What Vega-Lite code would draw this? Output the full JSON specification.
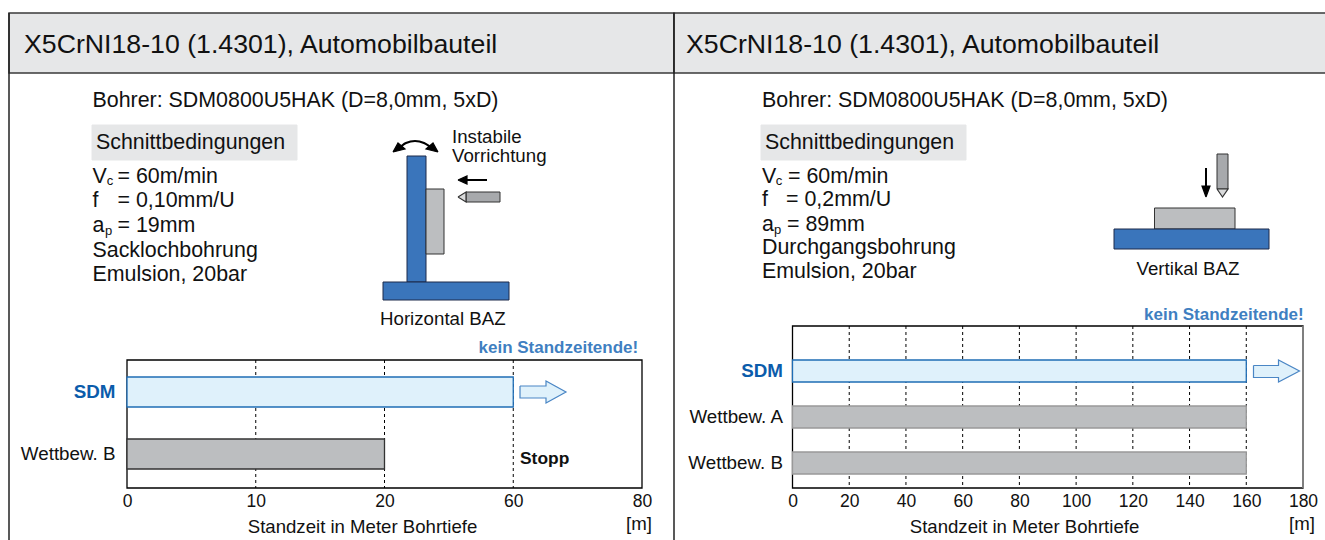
{"$schema":"https://vega.github.io/schema/vega-lite/v6.json","width":1325,"height":540,"autosize":{"type":"none"},"padding":0,"background":"white","config":{"view":{"stroke":null},"font":"Liberation Sans"},"resolve":{"scale":{"x":"independent","y":"independent","color":"independent","size":"independent","fill":"independent","stroke":"independent"},"axis":{"x":"independent","y":"independent"}},"datasets":{"panels":[{"a":9,"b":674},{"a":674,"b":1335}],"rects":[{"part":"Kasten","x":92,"x2":297,"y":125,"y2":160},{"part":"Kasten","x":761,"x2":966,"y":125,"y2":160},{"part":"Maschine","x":407,"x2":426,"y":156,"y2":282},{"part":"Maschine","x":383,"x2":509,"y":282,"y2":300},{"part":"Werkstueck","x":426,"x2":444,"y":189,"y2":254},{"part":"Werkzeug","x":466,"x2":500,"y":192,"y2":202},{"part":"Werkzeug","x":1217,"x2":1228,"y":154,"y2":189},{"part":"Werkstueck","x":1154.5,"x2":1235,"y":208,"y2":229},{"part":"Maschine","x":1114,"x2":1269,"y":229,"y2":249}],"polys":[{"id":"p1","part":"Spitze","s":1,"x":458,"y":197},{"id":"p1","part":"Spitze","s":2,"x":466,"y":192},{"id":"p1","part":"Spitze","s":3,"x":466,"y":202},{"id":"p1","part":"Spitze","s":4,"x":458,"y":197},{"id":"p2","part":"Spitze","s":1,"x":1217,"y":189},{"id":"p2","part":"Spitze","s":2,"x":1228,"y":189},{"id":"p2","part":"Spitze","s":3,"x":1222.5,"y":197},{"id":"p2","part":"Spitze","s":4,"x":1217,"y":189},{"id":"h1","part":"Pfeil","s":1,"x":393,"y":152},{"id":"h1","part":"Pfeil","s":2,"x":398,"y":143},{"id":"h1","part":"Pfeil","s":3,"x":405,"y":149},{"id":"h1","part":"Pfeil","s":4,"x":393,"y":152},{"id":"h2","part":"Pfeil","s":1,"x":438,"y":152},{"id":"h2","part":"Pfeil","s":2,"x":433,"y":143},{"id":"h2","part":"Pfeil","s":3,"x":426,"y":149},{"id":"h2","part":"Pfeil","s":4,"x":438,"y":152},{"id":"h3","part":"Pfeil","s":1,"x":458,"y":180},{"id":"h3","part":"Pfeil","s":2,"x":467,"y":176},{"id":"h3","part":"Pfeil","s":3,"x":467,"y":184},{"id":"h3","part":"Pfeil","s":4,"x":458,"y":180},{"id":"h4","part":"Pfeil","s":1,"x":1206,"y":197},{"id":"h4","part":"Pfeil","s":2,"x":1202,"y":186},{"id":"h4","part":"Pfeil","s":3,"x":1210,"y":186},{"id":"h4","part":"Pfeil","s":4,"x":1206,"y":197},{"id":"a1","part":"Trend","s":1,"x":520,"y":386},{"id":"a1","part":"Trend","s":2,"x":546,"y":386},{"id":"a1","part":"Trend","s":3,"x":546,"y":381},{"id":"a1","part":"Trend","s":4,"x":566,"y":392},{"id":"a1","part":"Trend","s":5,"x":546,"y":403},{"id":"a1","part":"Trend","s":6,"x":546,"y":398},{"id":"a1","part":"Trend","s":7,"x":520,"y":398},{"id":"a1","part":"Trend","s":8,"x":520,"y":386},{"id":"a2","part":"Trend","s":1,"x":1253.5,"y":365.5},{"id":"a2","part":"Trend","s":2,"x":1278.5,"y":365.5},{"id":"a2","part":"Trend","s":3,"x":1278.5,"y":360},{"id":"a2","part":"Trend","s":4,"x":1299.5,"y":371},{"id":"a2","part":"Trend","s":5,"x":1278.5,"y":382},{"id":"a2","part":"Trend","s":6,"x":1278.5,"y":377.5},{"id":"a2","part":"Trend","s":7,"x":1253.5,"y":377.5},{"id":"a2","part":"Trend","s":8,"x":1253.5,"y":365.5}],"curve":[{"x":398,"y":149},{"x":406,"y":143},{"x":415,"y":141},{"x":424,"y":143},{"x":433,"y":149}],"strokes":[{"id":"l1","s":1,"x":487,"y":180},{"id":"l1","s":2,"x":465,"y":180},{"id":"l2","s":1,"x":1206,"y":168},{"id":"l2","s":2,"x":1206,"y":188}],"texts":[{"t":"X5CrNI18-10 (1.4301), Automobilbauteil","x":24,"y":53,"k":"Titel"},{"t":"X5CrNI18-10 (1.4301), Automobilbauteil","x":686,"y":53,"k":"Titel"},{"t":"Bohrer: SDM0800U5HAK (D=8,0mm, 5xD)","x":92.5,"y":107,"k":"Text"},{"t":"Bohrer: SDM0800U5HAK (D=8,0mm, 5xD)","x":762,"y":107,"k":"Text"},{"t":"Schnittbedingungen","x":96,"y":149,"k":"Text"},{"t":"Schnittbedingungen","x":765,"y":149,"k":"Text"},{"t":"V","x":92.5,"y":183,"k":"Text"},{"t":"c","x":106.8,"y":185,"k":"Index"},{"t":"= 60m/min","x":117.5,"y":183,"k":"Text"},{"t":"f","x":92.5,"y":207,"k":"Text"},{"t":"= 0,10mm/U","x":117.5,"y":207,"k":"Text"},{"t":"a","x":92.5,"y":232,"k":"Text"},{"t":"p","x":105,"y":235,"k":"Index"},{"t":"= 19mm","x":117.5,"y":232,"k":"Text"},{"t":"Sacklochbohrung","x":92.5,"y":257,"k":"Text"},{"t":"Emulsion, 20bar","x":92.5,"y":281,"k":"Text"},{"t":"V","x":762,"y":183,"k":"Text"},{"t":"c","x":775.8,"y":185,"k":"Index"},{"t":"= 60m/min","x":788,"y":183,"k":"Text"},{"t":"f","x":762,"y":206,"k":"Text"},{"t":"= 0,2mm/U","x":786,"y":206,"k":"Text"},{"t":"a","x":762,"y":231,"k":"Text"},{"t":"p","x":774,"y":234,"k":"Index"},{"t":"= 89mm","x":787,"y":231,"k":"Text"},{"t":"Durchgangsbohrung","x":762,"y":254,"k":"Text"},{"t":"Emulsion, 20bar","x":762,"y":278,"k":"Text"},{"t":"Instabile","x":452,"y":143,"k":"Notiz"},{"t":"Vorrichtung","x":452,"y":162,"k":"Notiz"},{"t":"Horizontal BAZ","x":380,"y":325,"k":"Notiz"},{"t":"Vertikal BAZ","x":1136.5,"y":275,"k":"Notiz"},{"t":"[m]","x":626,"y":530,"k":"Notiz"},{"t":"[m]","x":1289,"y":530,"k":"Notiz"}],"bold":[{"t":"kein Standzeitende!","x":478.5,"y":353,"k":"Hinweis"},{"t":"kein Standzeitende!","x":1144,"y":320,"k":"Hinweis"},{"t":"Stopp","x":520,"y":464,"k":"Stopp"}]},"layer":[{"data":{"name":"panels"},"mark":{"type":"rect","fill":"#e6e7e8","stroke":"#3a3a3a","strokeWidth":1.5},"encoding":{"x":{"field":"a","type":"quantitative","scale":{"domain":[0,1325],"range":[0,1325]},"axis":null},"x2":{"field":"b"},"y":{"value":13},"y2":{"value":73}}},{"data":{"name":"panels"},"mark":{"type":"rule","stroke":"#222","strokeWidth":1.5},"encoding":{"x":{"field":"a","type":"quantitative","scale":{"domain":[0,1325],"range":[0,1325]},"axis":null},"y":{"value":13},"y2":{"value":545}}},{"data":{"name":"rects"},"mark":{"type":"rect"},"encoding":{"x":{"field":"x","type":"quantitative","scale":{"domain":[0,1325],"range":[0,1325]},"axis":null},"x2":{"field":"x2"},"y":{"field":"y","type":"quantitative","scale":{"domain":[0,540],"range":[0,540]},"axis":null},"y2":{"field":"y2"},"fill":{"field":"part","type":"nominal","legend":null,"scale":{"domain":["Kasten","Maschine","Werkstueck","Werkzeug"],"range":["#e6e7e8","#3a75bb","#bcbec0","#a7a9ac"]}},"stroke":{"field":"part","type":"nominal","legend":null,"scale":{"domain":["Kasten","Maschine","Werkstueck","Werkzeug"],"range":["#e6e7e8","#1c2b4a","#333333","#333333"]}}}},{"data":{"name":"polys"},"mark":{"type":"line","strokeWidth":1.2,"strokeJoin":"miter"},"encoding":{"x":{"field":"x","type":"quantitative","scale":{"domain":[0,1325],"range":[0,1325]},"axis":null},"y":{"field":"y","type":"quantitative","scale":{"domain":[0,540],"range":[0,540]},"axis":null},"order":{"field":"s","type":"quantitative"},"detail":{"field":"id"},"fill":{"field":"part","type":"nominal","legend":null,"scale":{"domain":["Spitze","Pfeil","Trend"],"range":["#d9dadb","#000000","#dff1fb"]}},"stroke":{"field":"part","type":"nominal","legend":null,"scale":{"domain":["Spitze","Pfeil","Trend"],"range":["#333333","#000000","#4a86c5"]}}}},{"data":{"name":"curve"},"mark":{"type":"line","interpolate":"monotone","stroke":"#000","strokeWidth":2.2},"encoding":{"x":{"field":"x","type":"quantitative","scale":{"domain":[0,1325],"range":[0,1325]},"axis":null},"y":{"field":"y","type":"quantitative","scale":{"domain":[0,540],"range":[0,540]},"axis":null}}},{"data":{"name":"strokes"},"mark":{"type":"line","stroke":"#000","strokeWidth":2},"encoding":{"x":{"field":"x","type":"quantitative","scale":{"domain":[0,1325],"range":[0,1325]},"axis":null},"y":{"field":"y","type":"quantitative","scale":{"domain":[0,540],"range":[0,540]},"axis":null},"order":{"field":"s","type":"quantitative"},"detail":{"field":"id"}}},{"data":{"values":[{"a":0,"b":80}]},"mark":{"type":"rect","fill":null,"stroke":"#000","strokeWidth":1.3},"encoding":{"x":{"field":"a","type":"quantitative","scale":{"type":"linear","domain":[0,10,20,60,80],"range":[127,255.75,384.5,513.25,642],"nice":false,"zero":false},"axis":null},"x2":{"field":"b"},"y":{"value":360},"y2":{"value":488}}},{"data":{"values":[{"m":10},{"m":20},{"m":60}]},"mark":{"type":"rule","stroke":"#000","strokeWidth":1,"strokeDash":[3,3]},"encoding":{"x":{"field":"m","type":"quantitative","scale":{"type":"linear","domain":[0,10,20,60,80],"range":[127,255.75,384.5,513.25,642],"nice":false,"zero":false},"axis":null},"y":{"value":360},"y2":{"value":488}}},{"data":{"values":[{"name":"SDM","meter":60},{"name":"Wettbew. B","meter":20}]},"mark":{"type":"bar","strokeWidth":1.3},"encoding":{"x":{"field":"meter","type":"quantitative","scale":{"type":"linear","domain":[0,10,20,60,80],"range":[127,255.75,384.5,513.25,642],"nice":false,"zero":false},"axis":{"orient":"bottom","offset":-52,"values":[0,10,20,60,80],"title":"Standzeit in Meter Bohrtiefe","titleX":362,"titleY":44,"titleBaseline":"alphabetic","titleFontSize":18.6,"titleFontWeight":"normal","titleColor":"#111","domain":false,"ticks":false,"grid":false,"tickSize":0,"labelPadding":4,"labelFontSize":17.5,"labelColor":"#111","labelFlush":false,"labelOverlap":false,"labelBound":false}},"y":{"field":"name","type":"nominal","sort":["SDM","Wettbew. B"],"scale":{"domain":["SDM","Wettbew. B"],"range":[361,485],"paddingInner":0.516,"paddingOuter":0.258},"axis":{"orient":"left","offset":-127,"title":null,"domain":false,"ticks":false,"grid":false,"tickSize":0,"labelPadding":12,"labelFontSize":18.8,"labelLimit":200,"labelColor":{"condition":{"test":"datum.value==='SDM'","value":"#0b5cab"},"value":"#111"},"labelFontWeight":{"condition":{"test":"datum.value==='SDM'","value":"bold"},"value":"normal"}}},"fill":{"field":"name","type":"nominal","legend":null,"scale":{"domain":["SDM","Wettbew. A","Wettbew. B"],"range":["#dff1fb","#bcbec0","#bcbec0"]}},"stroke":{"field":"name","type":"nominal","legend":null,"scale":{"domain":["SDM","Wettbew. A","Wettbew. B"],"range":["#1f6db5","#444444","#333333"]}}}},{"data":{"values":[{"a":0,"b":180}]},"mark":{"type":"rect","fill":null,"stroke":"#000","strokeWidth":1.3},"encoding":{"x":{"field":"a","type":"quantitative","scale":{"domain":[0,180],"range":[792.5,1303],"nice":false,"zero":false},"axis":null},"x2":{"field":"b"},"y":{"value":326},"y2":{"value":488}}},{"data":{"values":[{"m":20},{"m":40},{"m":60},{"m":80},{"m":100},{"m":120},{"m":140},{"m":160}]},"mark":{"type":"rule","stroke":"#000","strokeWidth":1,"strokeDash":[3,3]},"encoding":{"x":{"field":"m","type":"quantitative","scale":{"domain":[0,180],"range":[792.5,1303],"nice":false,"zero":false},"axis":null},"y":{"value":326},"y2":{"value":488}}},{"data":{"values":[{"m":180}]},"mark":{"type":"rule","stroke":"#8a8a8a","strokeWidth":1.6},"encoding":{"x":{"field":"m","type":"quantitative","scale":{"domain":[0,180],"range":[792.5,1303],"nice":false,"zero":false},"axis":null},"y":{"value":326},"y2":{"value":488}}},{"data":{"values":[{"name":"SDM","meter":160},{"name":"Wettbew. A","meter":160},{"name":"Wettbew. B","meter":160}]},"mark":{"type":"bar","strokeWidth":1.3},"encoding":{"x":{"field":"meter","type":"quantitative","scale":{"domain":[0,180],"range":[792.5,1303],"nice":false,"zero":false},"axis":{"orient":"bottom","offset":-52,"values":[0,20,40,60,80,100,120,140,160,180],"title":"Standzeit in Meter Bohrtiefe","titleX":1024,"titleY":44,"titleBaseline":"alphabetic","titleFontSize":18.6,"titleFontWeight":"normal","titleColor":"#111","domain":false,"ticks":false,"grid":false,"tickSize":0,"labelPadding":4,"labelFontSize":17.5,"labelColor":"#111","labelFlush":false,"labelOverlap":false,"labelBound":false}},"y":{"field":"name","type":"nominal","sort":["SDM","Wettbew. A","Wettbew. B"],"scale":{"domain":["SDM","Wettbew. A","Wettbew. B"],"range":[348,486],"paddingInner":0.5217,"paddingOuter":0.261},"axis":{"orient":"left","offset":-792.5,"title":null,"domain":false,"ticks":false,"grid":false,"tickSize":0,"labelPadding":10,"labelFontSize":18.8,"labelLimit":200,"labelColor":{"condition":{"test":"datum.value==='SDM'","value":"#0b5cab"},"value":"#111"},"labelFontWeight":{"condition":{"test":"datum.value==='SDM'","value":"bold"},"value":"normal"}}},"fill":{"field":"name","type":"nominal","legend":null,"scale":{"domain":["SDM","Wettbew. A","Wettbew. B"],"range":["#dff1fb","#bcbec0","#bcbec0"]}},"stroke":{"field":"name","type":"nominal","legend":null,"scale":{"domain":["SDM","Wettbew. A","Wettbew. B"],"range":["#1f6db5","#999999","#999999"]}}}},{"data":{"name":"texts"},"mark":{"type":"text","align":"left","baseline":"alphabetic","font":"Liberation Sans","color":"#111"},"encoding":{"x":{"field":"x","type":"quantitative","scale":{"domain":[0,1325],"range":[0,1325]},"axis":null},"y":{"field":"y","type":"quantitative","scale":{"domain":[0,540],"range":[0,540]},"axis":null},"text":{"field":"t"},"size":{"field":"k","type":"nominal","legend":null,"scale":{"type":"ordinal","domain":["Titel","Text","Index","Notiz"],"range":[26.7,21.4,13,18.7]}}}},{"data":{"name":"bold"},"mark":{"type":"text","align":"left","baseline":"alphabetic","font":"Liberation Sans","fontWeight":"bold"},"encoding":{"x":{"field":"x","type":"quantitative","scale":{"domain":[0,1325],"range":[0,1325]},"axis":null},"y":{"field":"y","type":"quantitative","scale":{"domain":[0,540],"range":[0,540]},"axis":null},"text":{"field":"t"},"color":{"field":"k","type":"nominal","legend":null,"scale":{"domain":["Hinweis","Stopp"],"range":["#3f7fc1","#111111"]}},"size":{"field":"k","type":"nominal","legend":null,"scale":{"type":"ordinal","domain":["Hinweis","Stopp"],"range":[17,17.4]}}}}]}
